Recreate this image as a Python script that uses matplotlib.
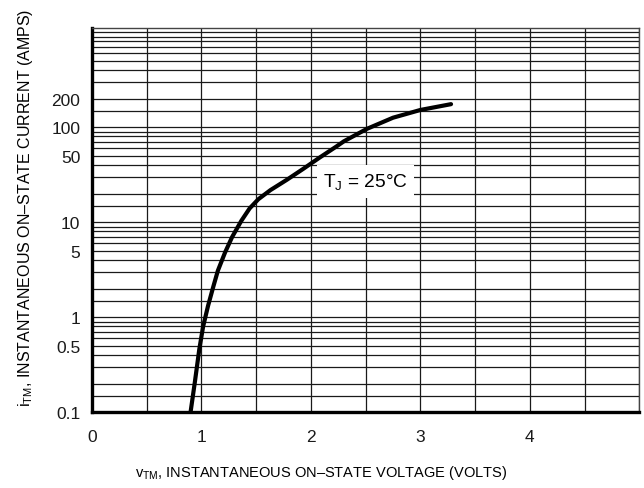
import numpy as np
import matplotlib
matplotlib.use("Agg")
import matplotlib.pyplot as plt
from matplotlib.ticker import FixedLocator, NullFormatter

plt.rcParams['font.family'] = ['Liberation Sans', 'DejaVu Sans']
plt.rcParams['mathtext.fontset'] = 'custom'
plt.rcParams['mathtext.rm'] = 'Liberation Sans'
plt.rcParams['mathtext.it'] = 'Liberation Sans'

# on-state characteristic
v_tm = [0.90, 0.94, 0.98, 1.015, 1.06, 1.11, 1.15, 1.215, 1.28, 1.365, 1.44, 1.52,
        1.63, 1.78, 1.93, 2.08, 2.235, 2.30, 2.51, 2.75, 3.00, 3.28]
i_tm = [0.10, 0.21, 0.46, 0.80, 1.32, 2.14, 3.1, 4.8, 7.0, 10.4, 14.0, 17.5,
        21.8, 28.0, 36.5, 48.0, 63.0, 71.0, 96.0, 126, 152, 175]

y_ticks = [0.1, 0.5, 1, 5, 10, 50, 100, 200]
y_labels = ['0.1', '0.5', '1', '5', '10', '50', '100', '200']
x_ticks = [0, 1, 2, 3, 4]
x_labels = ['0', '1', '2', '3', '4']

fig = plt.figure(figsize=(6.44, 4.89), dpi=100)
ax = fig.add_axes([0.1429, 0.1548, 0.8498, 0.7853])

ax.set_yscale('log')
ax.set_xlim(0, 5)
ax.set_ylim(0.1, 1100)

# graph paper rulings: 1, 1.5, 2 ... 9 per decade, every 0.5 V
steps = [1, 1.5, 2, 3, 4, 5, 6, 7, 8, 9]
minor_y = [d * s for d in [0.1, 1, 10, 100] for s in steps] + [1000]
ax.yaxis.set_minor_locator(FixedLocator(minor_y))
ax.yaxis.set_minor_formatter(NullFormatter())
ax.set_yticks(y_ticks)
ax.set_yticklabels(y_labels)
ax.set_xticks(x_ticks)
ax.set_xticklabels(x_labels)
ax.set_xticks(np.arange(0, 5.01, 0.5), minor=True)

ax.grid(True, which='both', color='#1a1a1a', linewidth=0.9)
ax.tick_params(which='both', length=0, labelsize=12.5, colors='#1a1a1a')
ax.tick_params(axis='y', pad=8.5)
ax.tick_params(axis='x', pad=12)

for side in ['left', 'bottom']:
    ax.spines[side].set_linewidth(2.4)
for side in ['top', 'right']:
    ax.spines[side].set_linewidth(1.0)
    ax.spines[side].set_color('#444444')

ax.plot(v_tm, i_tm, color='black', linewidth=3.0, solid_capstyle='round',
        solid_joinstyle='round', zorder=5)

ax.text(2.5, 27, r'T$_{\mathrm{J}}$ = 25°C', fontsize=13.8,
        ha='center', va='center',
        bbox=dict(facecolor='white', edgecolor='none', pad=4.5), zorder=4)

ax.set_xlabel(r'v$_{\mathrm{TM}}$, INSTANTANEOUS ON–STATE VOLTAGE (VOLTS)', fontsize=10.5)
ax.xaxis.set_label_coords(0.419, -0.133)
ax.set_ylabel(r'i$_{\mathrm{TM}}$, INSTANTANEOUS ON–STATE CURRENT (AMPS)', fontsize=11.5)
ax.yaxis.set_label_coords(-0.104, 0.534)

fig.savefig('out.png', dpi=100)
